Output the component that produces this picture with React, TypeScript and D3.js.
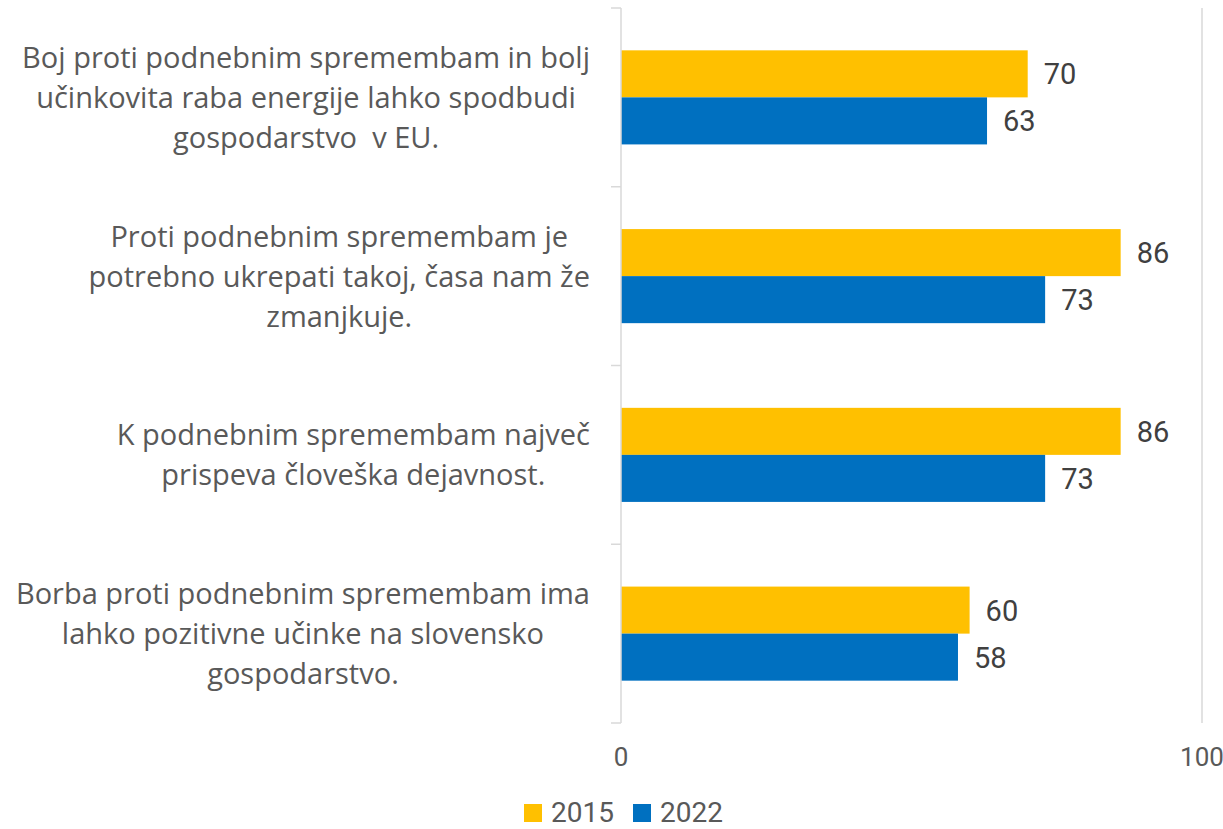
import React, { useEffect, useRef } from "react";
import * as d3 from "d3";

const categories = [
  ["Boj proti podnebnim spremembam in bolj", "učinkovita raba energije lahko spodbudi", "gospodarstvo  v EU."],
  ["Proti podnebnim spremembam je", "potrebno ukrepati takoj, časa nam že", "zmanjkuje."],
  ["K podnebnim spremembam največ", "prispeva človeška dejavnost."],
  ["Borba proti podnebnim spremembam ima", "lahko pozitivne učinke na slovensko", "gospodarstvo."],
];
const seriesNames = ["2015", "2022"];
const values2015 = [70, 86, 86, 60];
const values2022 = [63, 73, 73, 58];
const xTicks = [0, 100];

const colors = ["#FFC000", "#0070C0"];
const LABEL_FONT = "'Open Sans', sans-serif";
const NUM_FONT = "Roboto, sans-serif";
const TEXT = "#595959";

export default function App() {
  const svgRef = useRef<SVGSVGElement>(null);
  const width = 1223;
  const height = 829;

  useEffect(() => {
    const svg = d3.select(svgRef.current);
    svg.selectAll("*").remove();

    const x = d3.scaleLinear().domain([0, 100]).range([621, 1202]);
    const y = d3.scaleBand<number>().domain(d3.range(categories.length)).range([8, 723]);
    // Excel-like gap width of 180%
    const bar = y.bandwidth() / 3.8;
    const inner = d3.scaleBand<string>().domain(seriesNames).range([0, bar * 2]);
    const off = (y.bandwidth() - bar * 2) / 2;

    // gridline at 100
    svg
      .append("g")
      .selectAll("line")
      .data(xTicks.slice(1))
      .join("line")
      .attr("x1", (d) => x(d))
      .attr("x2", (d) => x(d))
      .attr("y1", 8)
      .attr("y2", 723)
      .attr("stroke", "#d9d9d9")
      .attr("stroke-width", 1.5);

    // bars
    const data = categories.map((_, i) => [values2015[i], values2022[i]]);
    const groups = svg
      .append("g")
      .selectAll("g")
      .data(data)
      .join("g")
      .attr("transform", (_, i) => `translate(0,${y(i)! + off})`);

    groups
      .selectAll("rect")
      .data((d) => d)
      .join("rect")
      .attr("x", x(0))
      .attr("y", (_, j) => inner(seriesNames[j])!)
      .attr("width", (v) => x(v) - x(0))
      .attr("height", inner.bandwidth())
      .attr("fill", (_, j) => colors[j]);

    groups
      .selectAll("text")
      .data((d) => d)
      .join("text")
      .attr("x", (v) => x(v) + 16)
      .attr("y", (_, j) => inner(seriesNames[j])! + inner.bandwidth() / 2)
      .attr("dy", "0.36em")
      .attr("font-family", NUM_FONT)
      .attr("font-size", 29)
      .attr("fill", "#404040")
      .text((v) => v);

    // y axis line with ticks
    const axis = svg.append("g").attr("stroke", "#d9d9d9").attr("stroke-width", 1.5);
    axis.append("line").attr("x1", x(0)).attr("x2", x(0)).attr("y1", 8).attr("y2", 723);
    axis
      .selectAll("line.tick")
      .data(d3.range(categories.length + 1))
      .join("line")
      .attr("class", "tick")
      .attr("x1", x(0) - 10)
      .attr("x2", x(0))
      .attr("y1", (i) => (i < categories.length ? y(i)! : 723))
      .attr("y2", (i) => (i < categories.length ? y(i)! : 723));

    // x tick labels
    svg
      .append("g")
      .selectAll("text")
      .data(xTicks)
      .join("text")
      .attr("x", (d) => x(d))
      .attr("y", 757)
      .attr("dy", "0.36em")
      .attr("text-anchor", "middle")
      .attr("font-family", NUM_FONT)
      .attr("font-size", 26)
      .attr("fill", TEXT)
      .text((d) => d);

    // category labels, centered block, right edge at 590
    const lineH = 40;
    categories.forEach((lines, i) => {
      const g = svg.append("g");
      const texts = g
        .selectAll("text")
        .data(lines)
        .join("text")
        .attr("y", (_, k) => y(i)! + y.bandwidth() / 2 + (k - (lines.length - 1) / 2) * lineH)
        .attr("dy", "0.36em")
        .attr("text-anchor", "middle")
        .attr("font-family", LABEL_FONT)
        .attr("font-size", 29)
        .attr("fill", TEXT)
        .style("white-space", "pre")
        .text((d) => d);
      let maxW = 0;
      texts.each(function () {
        maxW = Math.max(maxW, (this as SVGTextElement).getComputedTextLength());
      });
      texts.attr("x", 590 - maxW / 2);
    });

    // legend
    const legend = svg.append("g");
    const items = [
      { name: seriesNames[0], color: colors[0], x: 524 },
      { name: seriesNames[1], color: colors[1], x: 633 },
    ];
    items.forEach((it) => {
      legend
        .append("rect")
        .attr("x", it.x)
        .attr("y", 804)
        .attr("width", 18)
        .attr("height", 18)
        .attr("fill", it.color);
      legend
        .append("text")
        .attr("x", it.x + 27)
        .attr("y", 822)
        .attr("font-family", NUM_FONT)
        .attr("font-size", 28)
        .attr("fill", TEXT)
        .text(it.name);
    });
  }, []);

  return (
    <svg
      ref={svgRef}
      width={width}
      height={height}
      style={{ position: "absolute", left: 0, top: 0, background: "#fff" }}
    />
  );
}
